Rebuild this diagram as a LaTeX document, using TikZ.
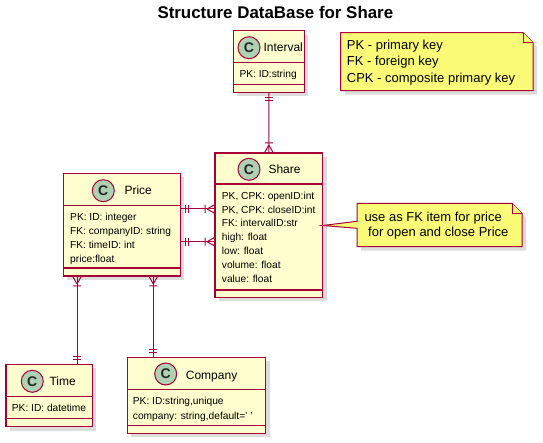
\documentclass[tikz,border=0pt]{standalone}
\usepackage{fontspec}
\setmainfont{Liberation Sans}
\usetikzlibrary{shadows}
\definecolor{cfill}{HTML}{FEFECE}
\definecolor{cline}{HTML}{A80036}
\definecolor{ccirc}{HTML}{ADD1B2}
\definecolor{nfill}{HTML}{FBFB77}
\tikzset{
  classbox/.style={draw=cline, line width=1.5pt, fill=cfill, inner sep=0pt, outer sep=0pt, anchor=north west,
    drop shadow={shadow xshift=4pt, shadow yshift=-4pt, fill=black!30, opacity=0.45}},
  sep/.style={draw=cline, line width=1.5pt},
  conn/.style={draw=cline, line width=1pt},
  cicon/.style={circle, draw=cline, line width=1pt, fill=ccirc, minimum size=22pt, inner sep=0pt,
    font=\fontsize{14}{14}\selectfont\bfseries, text=black!85},
  cname/.style={anchor=base west, inner sep=0pt, font=\fontsize{12}{12}\selectfont},
  attr/.style={anchor=base west, inner sep=0pt, font=\fontsize{10.2}{10.2}\selectfont},
  notetxt/.style={anchor=base west, inner sep=0pt, font=\fontsize{13}{13}\selectfont},
  notebody/.style={draw=cline, line width=1pt, fill=nfill},
  noteshadow/.style={fill=black!30, opacity=0.45},
  titletxt/.style={anchor=base west, inner sep=0pt, font=\fontsize{16.9}{16.9}\selectfont\bfseries},
  many/.pic={\draw[conn] (8,0) -- (0,4.5) (8,0) -- (0,-4.5) (10,-4) -- (10,4);},
  one/.pic={\draw[conn] (5,-4) -- (5,4) (8,-4) -- (8,4);}
}
\begin{document}
\begin{tikzpicture}[x=1pt,y=-1pt]
\useasboundingbox (0,0) rectangle (543,443);
% title
\node[titletxt] (title) at (157.3,18.3) {Structure DataBase for Share};

% Interval
\node[classbox, minimum width=71pt, minimum height=61.6pt] (interval) at (233.3,30.7) {};
\draw[sep] (interval.west |- 0,62.3) -- (interval.east |- 0,62.3);
\draw[sep] (interval.west |- 0,84.3) -- (interval.east |- 0,84.3);
\node[cicon] (ci) at (249,47.7) {C};
\node[cname] (ni) at (263.3,51.7) {Interval};
\node[attr] (ai1) at (239.3,77.7) {PK: ID:string};

% Note 1
\fill[noteshadow] (344.7,36.7) -- (527,36.7) -- (537,46.7) -- (537,94.7) -- (344.7,94.7) -- cycle;
\draw[notebody] (340.7,32.7) -- (523,32.7) -- (533,42.7) -- (533,90.7) -- (340.7,90.7) -- cycle;
\draw[notebody] (523,32.7) -- (523,42.7) -- (533,42.7);
\node[notetxt] (n1a) at (346.7,49.3) {PK - primary key};
\node[notetxt] (n1b) at (346.7,66) {FK - foreign key};
\node[notetxt] (n1c) at (346.7,82.7) {CPK - composite primary key};

% Share
\node[classbox, minimum width=107.7pt, minimum height=144.3pt] (share) at (215,153) {};
\draw[sep] (share.west |- 0,184) -- (share.east |- 0,184);
\draw[sep] (share.west |- 0,290) -- (share.east |- 0,290);
\node[cicon] (cs) at (249,169.3) {C};
\node[cname] (ns) at (268.3,173.3) {Share};
\node[attr] (as1) at (221.7,199.3) {PK, CPK: openID:int};
\node[attr] (as2) at (221.7,213.1) {PK, CPK: closeID:int};
\node[attr] (as3) at (221.7,226.9) {FK: intervalID:str};
\node[attr] (as4) at (221.7,240.7) {high: float};
\node[attr] (as5) at (221.7,254.5) {low: float};
\node[attr] (as6) at (221.7,268.3) {volume: float};
\node[attr] (as7) at (221.7,282.1) {value: float};

% Price
\node[classbox, minimum width=117pt, minimum height=102.7pt] (price) at (63.3,173.3) {};
\draw[sep] (price.west |- 0,205.3) -- (price.east |- 0,205.3);
\draw[sep] (price.west |- 0,268) -- (price.east |- 0,268);
\node[cicon] (cp) at (103.3,190.7) {C};
\node[cname] (np) at (124.3,195) {Price};
\node[attr] (ap1) at (70,221) {PK: ID: integer};
\node[attr] (ap2) at (70,234.8) {FK: companyID: string};
\node[attr] (ap3) at (70,248.6) {FK: timeID: int};
\node[attr] (ap4) at (70,262.4) {price:float};

% Note 2
\coordinate (tip) at (share.east |- 0,225.5);
\fill[noteshadow] (361,207.3) -- (516,207.3) -- (526,217.3) -- (526,250.7) -- (361,250.7) -- cycle;
\draw[notebody] (357,203.3) -- (512,203.3) -- (522,213.3) -- (522,246.7) -- (357,246.7) -- (357,228.3) -- (tip) -- (357,221.3) -- cycle;
\draw[notebody] (512,203.3) -- (512,213.3) -- (522,213.3);
\node[notetxt] (n2a) at (364.3,221.7) {use as FK item for price};
\node[notetxt] (n2b) at (368,237) {for open and close Price};

% Time
\node[classbox, minimum width=86.3pt, minimum height=62.4pt] (time) at (6,364.3) {};
\draw[sep] (time.west |- 0,396.7) -- (time.east |- 0,396.7);
\draw[sep] (time.west |- 0,418.3) -- (time.east |- 0,418.3);
\node[cicon] (ct) at (32.3,381.3) {C};
\node[cname] (nt) at (49.3,385.7) {Time};
\node[attr] (at1) at (11.7,411.7) {PK: ID: datetime};

% Company
\node[classbox, minimum width=138.4pt, minimum height=76pt] (company) at (127.3,357.3) {};
\draw[sep] (company.west |- 0,389.3) -- (company.east |- 0,389.3);
\draw[sep] (company.west |- 0,425.7) -- (company.east |- 0,425.7);
\node[cicon] (cc) at (165.7,374) {C};
\node[cname] (nc) at (185.7,379) {Company};
\node[attr] (ac1) at (132.7,404.3) {PK: ID:string,unique};
\node[attr] (ac2) at (132.7,419) {company: string,default=' '};

% connectors
\draw[conn] (interval.south) -- (share.north);
\pic[rotate=-90] at (interval.south) {one};
\pic[rotate=90] at (share.north) {many};

\draw[conn] (price.east |- 0,209) -- (share.west |- 0,209);
\pic at (price.east |- 0,209) {one};
\pic[rotate=180] at (share.west |- 0,209) {many};
\draw[conn] (price.east |- 0,241.7) -- (share.west |- 0,241.7);
\pic at (price.east |- 0,241.7) {one};
\pic[rotate=180] at (share.west |- 0,241.7) {many};

\draw[conn] (77,0 |- price.south) -- (77,0 |- time.north);
\pic[rotate=-90] at (77,0 |- price.south) {many};
\pic[rotate=90] at (77,0 |- time.north) {one};
\draw[conn] (153.3,0 |- price.south) -- (153.3,0 |- company.north);
\pic[rotate=-90] at (153.3,0 |- price.south) {many};
\pic[rotate=90] at (153.3,0 |- company.north) {one};
\end{tikzpicture}
\end{document}
